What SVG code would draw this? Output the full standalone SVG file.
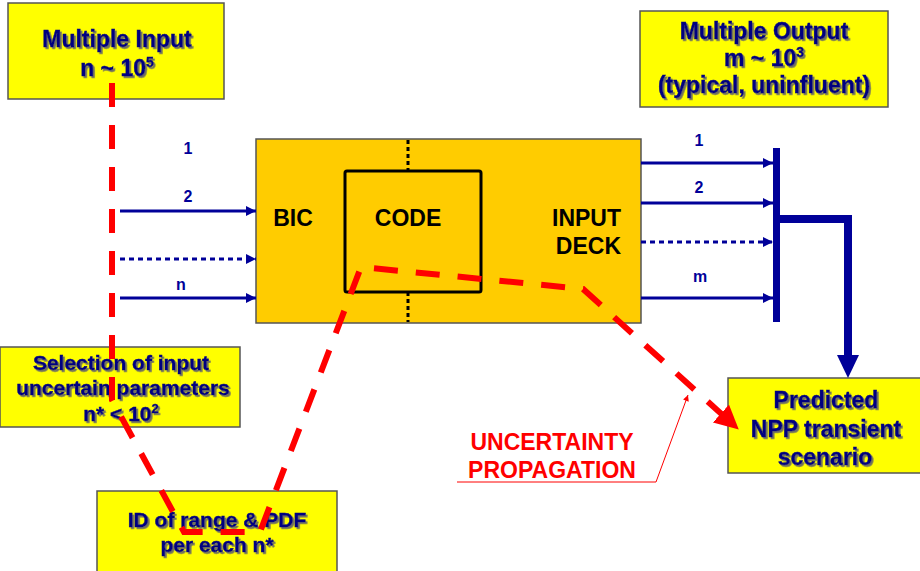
<svg xmlns="http://www.w3.org/2000/svg" width="920" height="571" viewBox="0 0 920 571">
<defs>
<filter id="sh" x="-10%" y="-20%" width="130%" height="150%">
<feDropShadow dx="1.8" dy="1.8" stdDeviation="0.7" flood-color="#666" flood-opacity="0.95"/>
</filter>
<marker id="ab" viewBox="0 0 10 10" refX="10" refY="5" markerWidth="12" markerHeight="10" markerUnits="userSpaceOnUse" orient="auto">
<path d="M0,0 L10,5 L0,10 Z" fill="#000099"/>
</marker>
<marker id="ar" viewBox="0 0 10 10" refX="9" refY="5" markerWidth="24" markerHeight="24" markerUnits="userSpaceOnUse" orient="auto">
<path d="M0,0 L10,5 L0,10 Z" fill="#FF0000"/>
</marker>
<marker id="at" viewBox="0 0 10 10" refX="10" refY="5" markerWidth="8" markerHeight="6" markerUnits="userSpaceOnUse" orient="auto">
<path d="M0,0 L10,5 L0,10 Z" fill="#FF0000"/>
</marker>
</defs>
<style>
.yb{fill:#FFFF00;stroke:#555;stroke-width:1.5}
.bt{font-family:"Liberation Sans",Arial,sans-serif;font-weight:bold;fill:#000080;stroke:#000080;stroke-width:0.4;text-anchor:middle;filter:url(#sh)}
.kt{font-family:"Liberation Sans",Arial,sans-serif;font-weight:bold;fill:#000;font-size:23px}
.lb{font-family:"Liberation Sans",Arial,sans-serif;font-weight:bold;fill:#000099;font-size:16px;text-anchor:middle}
.rt{font-family:"Liberation Sans",Arial,sans-serif;font-weight:bold;fill:#FF0000;font-size:23px;text-anchor:middle}
.ba{stroke:#000099;stroke-width:3;fill:none;marker-end:url(#ab)}
.dot{stroke-dasharray:5 4}
</style>
<rect width="920" height="571" fill="#FFFFFF"/>

<g id="core">
<rect x="256" y="139" width="385" height="184" fill="#FFCC00" stroke="#555" stroke-width="1.5"/>
<rect x="345" y="171" width="136" height="121" rx="2" fill="none" stroke="#000" stroke-width="3"/>
<line x1="408" y1="140" x2="408" y2="171" stroke="#000" stroke-width="3" stroke-dasharray="4 3"/>
<line x1="408" y1="292" x2="408" y2="322" stroke="#000" stroke-width="3" stroke-dasharray="4 3"/>
<text class="kt" x="293" y="226" text-anchor="middle">BIC</text>
<text class="kt" x="408" y="226" text-anchor="middle">CODE</text>
<text class="kt" x="621" y="226" text-anchor="end">INPUT</text>
<text class="kt" x="621" y="254" text-anchor="end">DECK</text>
</g>

<g id="multiple-input">
<rect class="yb" x="8" y="3" width="216" height="96"/>
<text class="bt" x="117" y="47" font-size="23">Multiple Input</text>
<text class="bt" x="117" y="76" font-size="23">n ~ 10<tspan font-size="14" dy="-9">5</tspan></text>
</g>

<g id="multiple-output">
<rect class="yb" x="640" y="11" width="248" height="96"/>
<text class="bt" x="764" y="39" font-size="23">Multiple Output</text>
<text class="bt" x="764" y="66" font-size="23">m ~ 10<tspan font-size="14" dy="-9">3</tspan></text>
<text class="bt" x="764" y="93" font-size="23">(typical, uninfluent)</text>
</g>

<g id="selection">
<rect class="yb" x="0" y="347" width="240" height="80"/>
<text class="bt" x="121" y="370" font-size="21">Selection of input</text>
<text class="bt" x="123" y="395" font-size="21">uncertain parameters</text>
<text class="bt" x="121" y="421" font-size="21">n* &lt; 10<tspan font-size="13" dy="-8">2</tspan></text>
</g>

<g id="id-range">
<rect class="yb" x="97" y="491" width="240" height="90"/>
<text class="bt" x="217" y="527" font-size="21">ID of range &amp; PDF</text>
<text class="bt" x="217" y="552" font-size="21">per each n*</text>
</g>

<g id="predicted">
<rect class="yb" x="728" y="378" width="210" height="95"/>
<text class="bt" x="826" y="408" font-size="23">Predicted</text>
<text class="bt" x="826" y="437" font-size="23">NPP transient</text>
<text class="bt" x="825" y="465" font-size="23">scenario</text>
</g>

<g id="connectors">
<line class="ba" x1="120" y1="211" x2="256" y2="211"/>
<line class="ba dot" x1="120" y1="259" x2="256" y2="259"/>
<line class="ba" x1="120" y1="298" x2="256" y2="298"/>
<text class="lb" x="188" y="154">1</text>
<text class="lb" x="188" y="202">2</text>
<text class="lb" x="181" y="290">n</text>

<line class="ba" x1="641" y1="163" x2="773" y2="163"/>
<line class="ba" x1="641" y1="203" x2="773" y2="203"/>
<line class="ba dot" x1="641" y1="242" x2="773" y2="242"/>
<line class="ba" x1="641" y1="298" x2="773" y2="298"/>
<text class="lb" x="699" y="146">1</text>
<text class="lb" x="699" y="193">2</text>
<text class="lb" x="700" y="282">m</text>

<line x1="776.5" y1="148" x2="776.5" y2="322" stroke="#000099" stroke-width="7"/>
<polyline points="780,219 848,219 848,356" fill="none" stroke="#000099" stroke-width="8"/>
<path d="M837,355 L859,355 L848,378 Z" fill="#000099"/>

<polyline points="112,83 112,400 184,532 260,532 361,267 583,289 737,428" fill="none" stroke="#FF0000" stroke-width="6" stroke-dasharray="24 18" marker-end="url(#ar)"/>

<polyline points="457,482 656,482 688,395" fill="none" stroke="#FF0000" stroke-width="1" marker-end="url(#at)"/>
<text class="rt" x="552" y="450">UNCERTAINTY</text>
<text class="rt" x="552" y="478">PROPAGATION</text>
</g>
</svg>
